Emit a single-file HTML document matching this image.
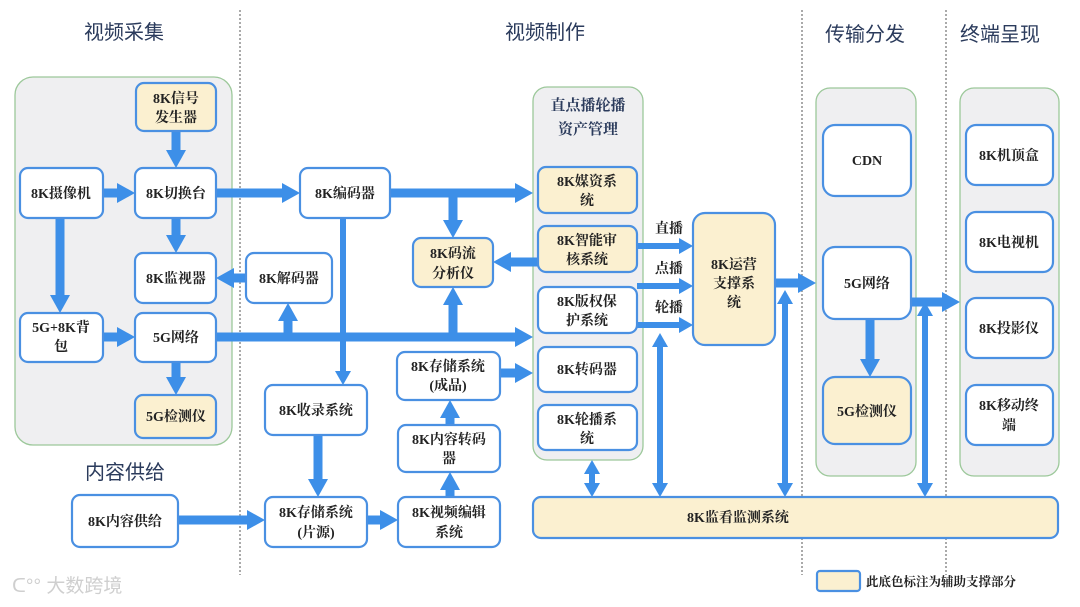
<!DOCTYPE html>
<html><head><meta charset="utf-8"><style>
html,body{margin:0;padding:0;background:#fff;}
svg{display:block;}
text{font-family:"Liberation Serif","Noto Serif CJK SC",serif;fill:#222;font-size:14px;text-anchor:middle;font-weight:bold;}
.t{font-family:"Liberation Sans","Noto Sans CJK SC",sans-serif;font-size:20px;fill:#2b3b5c;font-weight:normal;}
.b{fill:#fff;stroke:#4a90e2;stroke-width:2.2;}
.y{fill:#fbf0d0;stroke:#4a90e2;stroke-width:2.2;}
.p{fill:#efeff1;stroke:#9cc89a;stroke-width:1.3;}
.a{stroke:#3d8fe8;stroke-width:9;fill:none;}
.n{stroke:#3d8fe8;stroke-width:6;fill:none;}
.d{stroke:#555;stroke-width:1;stroke-dasharray:2 2;}
</style></head><body>
<svg width="1080" height="607" viewBox="0 0 1080 607" xmlns="http://www.w3.org/2000/svg">
<defs>
<marker id="h" markerUnits="userSpaceOnUse" markerWidth="22" markerHeight="22" refX="8" refY="11" orient="auto-start-reverse"><path d="M0,1 L18,11 L0,21 z" fill="#3d8fe8"/></marker>
<marker id="s" markerUnits="userSpaceOnUse" markerWidth="18" markerHeight="18" refX="6" refY="9" orient="auto-start-reverse"><path d="M0,1 L14,9 L0,17 z" fill="#3d8fe8"/></marker>
</defs>
<line class="d" x1="240" y1="10" x2="240" y2="575"/>
<line class="d" x1="802" y1="10" x2="802" y2="575"/>
<line class="d" x1="946" y1="10" x2="946" y2="575"/>
<text class="t" x="124" y="39">视频采集</text>
<text class="t" x="545" y="39">视频制作</text>
<text class="t" x="865" y="41">传输分发</text>
<text class="t" x="1000" y="41">终端呈现</text>
<text class="t" x="125" y="479">内容供给</text>
<rect class="p" x="15" y="77" width="217" height="368" rx="18"/>
<rect class="p" x="533" y="87" width="110" height="373" rx="14"/>
<rect class="p" x="816" y="88" width="100" height="388" rx="14"/>
<rect class="p" x="960" y="88" width="99" height="388" rx="14"/>
<text x="588" y="110" style="font-size:15px;fill:#2b3b5c">直点播轮播</text>
<text x="588" y="134" style="font-size:15px;fill:#2b3b5c">资产管理</text>
<line class="a" x1="176" y1="131" x2="176" y2="158" marker-end="url(#h)"/>
<line class="a" x1="103" y1="193" x2="125" y2="193" marker-end="url(#h)"/>
<line class="a" x1="176" y1="218" x2="176" y2="243" marker-end="url(#h)"/>
<line class="a" x1="216" y1="193" x2="290" y2="193" marker-end="url(#h)"/>
<line class="a" x1="390" y1="193" x2="523" y2="193" marker-end="url(#h)"/>
<line class="a" x1="453" y1="193" x2="453" y2="228" marker-end="url(#h)"/>
<line class="a" x1="538" y1="262" x2="503" y2="262" marker-end="url(#h)"/>
<line class="a" x1="60" y1="218" x2="60" y2="303" marker-end="url(#h)"/>
<line class="a" x1="103" y1="337" x2="125" y2="337" marker-end="url(#h)"/>
<line class="a" x1="216" y1="337" x2="523" y2="337" marker-end="url(#h)"/>
<line class="a" x1="288" y1="337" x2="288" y2="313" marker-end="url(#h)"/>
<line class="a" x1="453" y1="337" x2="453" y2="297" marker-end="url(#h)"/>
<line class="a" x1="246" y1="278" x2="226" y2="278" marker-end="url(#h)"/>
<line class="a" x1="176" y1="362" x2="176" y2="385" marker-end="url(#h)"/>
<line class="n" x1="343" y1="218" x2="343" y2="377" marker-end="url(#s)"/>
<line class="a" x1="318" y1="435" x2="318" y2="487" marker-end="url(#h)"/>
<line class="a" x1="500" y1="373" x2="523" y2="373" marker-end="url(#h)"/>
<line class="a" x1="450" y1="425" x2="450" y2="410" marker-end="url(#h)"/>
<line class="a" x1="450" y1="497" x2="450" y2="482" marker-end="url(#h)"/>
<line class="a" x1="178" y1="520" x2="255" y2="520" marker-end="url(#h)"/>
<line class="a" x1="367" y1="520" x2="388" y2="520" marker-end="url(#h)"/>
<line class="n" x1="637" y1="246" x2="685" y2="246" marker-end="url(#s)"/>
<line class="n" x1="637" y1="286" x2="685" y2="286" marker-end="url(#s)"/>
<line class="n" x1="637" y1="325" x2="685" y2="325" marker-end="url(#s)"/>
<line class="n" x1="592" y1="468" x2="592" y2="489" marker-start="url(#s)" marker-end="url(#s)"/>
<line class="n" x1="660" y1="341" x2="660" y2="489" marker-start="url(#s)" marker-end="url(#s)"/>
<line class="n" x1="785" y1="298" x2="785" y2="489" marker-start="url(#s)" marker-end="url(#s)"/>
<line class="n" x1="925" y1="310" x2="925" y2="489" marker-start="url(#s)" marker-end="url(#s)"/>
<line class="a" x1="775" y1="283" x2="806" y2="283" marker-end="url(#h)"/>
<line class="a" x1="911" y1="302" x2="950" y2="302" marker-end="url(#h)"/>
<line class="a" x1="870" y1="319" x2="870" y2="367" marker-end="url(#h)"/>
<text x="669" y="233">直播</text>
<text x="669" y="273">点播</text>
<text x="669" y="312">轮播</text>
<rect class="y" x="136" y="83" width="80" height="48" rx="8"/><text x="176" y="103">8K信号</text><text x="176" y="122">发生器</text>
<rect class="b" x="20" y="168" width="83" height="50" rx="8"/><text x="61" y="198">8K摄像机</text>
<rect class="b" x="135" y="168" width="81" height="50" rx="8"/><text x="176" y="198">8K切换台</text>
<rect class="b" x="135" y="253" width="81" height="50" rx="8"/><text x="176" y="283">8K监视器</text>
<rect class="b" x="20" y="313" width="83" height="49" rx="8"/><text x="61" y="332">5G+8K背</text><text x="61" y="351">包</text>
<rect class="b" x="135" y="313" width="81" height="49" rx="8"/><text x="176" y="342">5G网络</text>
<rect class="y" x="135" y="395" width="81" height="43" rx="8"/><text x="176" y="421">5G检测仪</text>
<rect class="b" x="300" y="168" width="90" height="50" rx="8"/><text x="345" y="198">8K编码器</text>
<rect class="b" x="246" y="253" width="86" height="50" rx="8"/><text x="289" y="283">8K解码器</text>
<rect class="y" x="413" y="238" width="80" height="49" rx="8"/><text x="453" y="258">8K码流</text><text x="453" y="278">分析仪</text>
<rect class="b" x="265" y="385" width="102" height="50" rx="8"/><text x="316" y="415">8K收录系统</text>
<rect class="b" x="397" y="352" width="103" height="48" rx="8"/><text x="448" y="371">8K存储系统</text><text x="448" y="390">(成品)</text>
<rect class="b" x="398" y="425" width="102" height="47" rx="8"/><text x="449" y="444">8K内容转码</text><text x="449" y="463">器</text>
<rect class="b" x="265" y="497" width="102" height="50" rx="8"/><text x="316" y="517">8K存储系统</text><text x="316" y="537">(片源)</text>
<rect class="b" x="398" y="497" width="102" height="50" rx="8"/><text x="449" y="517">8K视频编辑</text><text x="449" y="537">系统</text>
<rect class="b" x="72" y="495" width="106" height="52" rx="8"/><text x="125" y="526">8K内容供给</text>
<rect class="y" x="538" y="167" width="99" height="46" rx="8"/><text x="587" y="186">8K媒资系</text><text x="587" y="205">统</text>
<rect class="y" x="538" y="226" width="99" height="46" rx="8"/><text x="587" y="245">8K智能审</text><text x="587" y="264">核系统</text>
<rect class="b" x="538" y="287" width="99" height="46" rx="8"/><text x="587" y="306">8K版权保</text><text x="587" y="325">护系统</text>
<rect class="b" x="538" y="347" width="99" height="45" rx="8"/><text x="587" y="374">8K转码器</text>
<rect class="b" x="538" y="405" width="99" height="45" rx="8"/><text x="587" y="424">8K轮播系</text><text x="587" y="443">统</text>
<rect class="y" x="693" y="213" width="82" height="132" rx="12"/><text x="734" y="269">8K运营</text><text x="734" y="288">支撑系</text><text x="734" y="307">统</text>
<rect class="b" x="823" y="125" width="88" height="71" rx="12"/><text x="867" y="165">CDN</text>
<rect class="b" x="823" y="247" width="88" height="72" rx="12"/><text x="867" y="288">5G网络</text>
<rect class="y" x="823" y="377" width="88" height="67" rx="12"/><text x="867" y="416">5G检测仪</text>
<rect class="b" x="966" y="125" width="87" height="60" rx="10"/><text x="1009" y="160">8K机顶盒</text>
<rect class="b" x="966" y="212" width="87" height="60" rx="10"/><text x="1009" y="247">8K电视机</text>
<rect class="b" x="966" y="298" width="87" height="60" rx="10"/><text x="1009" y="333">8K投影仪</text>
<rect class="b" x="966" y="385" width="87" height="60" rx="10"/><text x="1009" y="410">8K移动终</text><text x="1009" y="430">端</text>
<rect class="y" x="533" y="497" width="525" height="41" rx="8"/><text x="738" y="522">8K监看监测系统</text>
<rect class="y" x="817" y="571" width="43" height="20" rx="3"/>
<text x="866" y="586" style="text-anchor:start;font-size:12.5px">此底色标注为辅助支撑部分</text>
<text x="12" y="592" style="text-anchor:start;font-family:'Liberation Sans','Noto Sans CJK SC',sans-serif;font-size:19px;fill:#cfcfcf;font-weight:normal">ᑕ°° 大数跨境</text>
</svg>
</body></html>
